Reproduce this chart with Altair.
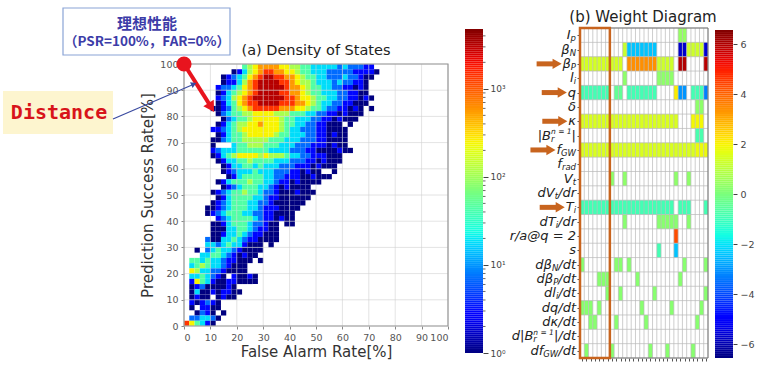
import numpy as np
import pandas as pd
import altair as alt

W, H = 757, 365

# ---------------------------------------------------------------
# (a) Density of States: 2 % x 2 % histogram of (FAR, PSR).
# One string per PSR band, the 98-100 % band first; one character
# per FAR band starting at 0 %.  "." = empty bin, otherwise the
# count class given in LEVEL_COUNTS.
# ---------------------------------------------------------------
DENSITY_ROWS = [
    "..........." "5678888776" "6554444434" "33322",
    "........." "1246789988" "7765544433" "33322221",
    "......." "12345789RR" "9988765544" "333433211",
    "......." "1224689RRR" "R998766544" "43433221",
    "......" "23345789RR" "RRR9887655" "443322121",
    "......" "12456789RR" "RR99887655" "444332211",
    "......" "2346789RRR" "RRR9987765" "5443322121",
    "......" "12457899RR" "RR99988765" "443322111",
    "....." "1123567899" "9998887765" "543322121." "1",
    "......" "1345566777" "7666555443" "32212111",
    "......." "1345567777" "7655444332" "212111",
    "......" "1245667787" "7765544332" "2111.1",
    "....." "2234567777" "7776544333" "221111",
    "......" "1245567777" "7655444332" "21211",
    "....." "1134556666" "6555444333" "221111",
    "....." "1...455666" "5554443332" "221211",
    "....." "2344455555" "5444433322" "1111211",
    "....." "1245677776" "7666544332" "22111",
    "......" "1244556555" "5444333221" "2111",
    "......." "1244554544" "4333222121" "11",
    "......." "1234445444" "333221211." ".1",
    "........" "1245555443" "3222112111",
    "......" "1245556554" "4322121111",
    "......." "1234555443" "2121111",
    "....." "1234556554" "3321112111",
    "......" "1245555443" "22111111",
    "....." "1234555443" "32111111",
    "...." "1123455544" "32221111",
    "...." "1234555443" "3221111",
    "......" "2345555432" "21211",
    "....." "1124555433" "211.11",
    "....." "1114455432" "211",
    "....." "1124454322" "111",
    "...." "3114454322" "1111",
    "...." "4434544211" "1.1",
    ".." "1.34544321" "111",
    "..." "4455432121" "1",
    "." "5545443221" "11.1",
    "." "4565443211" "1",
    "." "7644332111" "1",
    "." "4454321.21" "121",
    "." "2754211221" "111",
    "." "123111121",
    "." "1411212211",
    "." "1211.1211",
    "." "212321",
    "." "1.2211",
    ".." "1321.1",
    "." "334431",
    "975421",
]
LEVEL_COUNTS = {"1": 1, "2": 3, "3": 7, "4": 18, "5": 45, "6": 110,
                "7": 250, "8": 560, "9": 1400, "R": 3200}
N_FAR_BINS = 38
BIN = 2

AXIS_TICKS = list(range(0, 101, 10))
DENS_TICKS = [0, 1, 2, 3]
DENS_TICK_LABELS = ["10⁰", "10¹", "10²", "10³"]
DENS_LOG_MAX = 3.68

# ---------------------------------------------------------------
# (b) Weight Diagram: 23 input features x 30 models.
# Label pieces: (base, subscript, superscript, tail)
# ---------------------------------------------------------------
FEATURES = [
    ("I", "p", "", ""),
    ("β", "N", "", ""),
    ("β", "P", "", ""),
    ("l", "i", "", ""),
    ("q", "", "", ""),
    ("δ", "", "", ""),
    ("κ", "", "", ""),
    ("|B", "r", "n = 1", "|"),
    ("f", "GW", "", ""),
    ("f", "rad", "", ""),
    ("V", "t", "", ""),
    ("dV", "t", "", "/dr"),
    ("T", "i", "", ""),
    ("dT", "i", "", "/dr"),
    ("r/a@q = 2", "", "", ""),
    ("s", "", "", ""),
    ("dβ", "N", "", "/dt"),
    ("dβ", "P", "", "/dt"),
    ("dl", "i", "", "/dt"),
    ("dq/dt", "", "", ""),
    ("dκ/dt", "", "", ""),
    ("d|B", "r", "n = 1", "|/dt"),
    ("df", "GW", "", "/dt"),
]
# per feature: runs of (first model, last model, weight)
WEIGHT_RUNS = [
    [(23, 24, 0.4)],
    [(10, 10, 1.2), (11, 17, -2.4), (23, 24, -5.7), (25, 28, 1.3), (29, 29, -5.6)],
    [(0, 9, 1.4), (11, 17, 3.4), (18, 21, 1.3), (23, 24, 6.0), (29, 29, 5.9)],
    [(10, 10, 0.3), (18, 21, 0.3)],
    [(0, 6, -0.9), (8, 9, -0.4), (11, 17, -0.9), (22, 22, 2.1), (23, 24, -3.0),
     (26, 28, -0.9), (29, 29, -3.3)],
    [(27, 28, 0.3)],
    [(0, 22, 1.5), (26, 28, 1.9)],
    [(27, 28, -0.8)],
    [(0, 26, 1.5), (27, 29, 1.8)],
    [],
    [(7, 7, 0.3), (10, 10, 0.3), (22, 22, 0.3), (25, 25, 0.3)],
    [],
    [(0, 21, -0.9), (23, 25, -0.9), (29, 29, -0.9)],
    [(10, 10, 0.2), (18, 22, 0.2), (25, 25, 0.2)],
    [(22, 22, 4.3)],
    [(18, 18, -0.9), (22, 22, -2.4)],
    [(0, 0, 0.2), (8, 9, 0.2), (11, 11, 0.2), (24, 24, 0.2), (29, 29, 0.2)],
    [(4, 6, 0.2), (13, 13, 0.2), (23, 23, 0.2)],
    [(6, 6, 0.2), (9, 9, 0.2), (17, 17, 0.2), (29, 29, 0.2)],
    [(0, 2, 0.2), (4, 4, 0.2), (14, 14, 0.2), (21, 21, 0.2), (28, 28, 0.2)],
    [(2, 3, 0.2), (8, 8, 0.2), (15, 15, 0.2), (27, 27, 0.2)],
    [],
    [(1, 1, 0.2), (7, 7, 0.2), (16, 16, 0.2), (20, 20, 0.2), (26, 26, 0.2)],
]
HIGHLIGHT_ROWS = [2, 4, 6, 8, 12]
N_MODELS = 30
SELECTED_MODELS = 7
WEIGHT_TICKS = [-6, -4, -2, 0, 2, 4, 6]
WEIGHT_LIM = 6.56

# ---------------------------------------------------------------
# layout (pixels) and styling
# ---------------------------------------------------------------
A_X, A_Y = [184, 448], [326, 64]
CA_X0, CA_X1, CA_Y = 465, 483, [353, 29]
B_X, B_Y = [580, 708], [28, 358]
CB_X0, CB_X1, CB_Y = 715, 733, [358, 30]
FONT = "DejaVu Sans"
ORANGE = "#c8641e"
RED = "#e8141e"


def jet_rgb(t):
    r = np.interp(t, [0, 0.35, 0.66, 0.89, 1], [0, 0, 1, 1, 0.5])
    g = np.interp(t, [0, 0.125, 0.375, 0.64, 0.91, 1], [0, 0, 1, 1, 0, 0])
    b = np.interp(t, [0, 0.11, 0.34, 0.65, 1], [0.5, 1, 1, 0, 0])
    return r, g, b


JET_T = np.linspace(0, 1, 41)
JET = ["#%02x%02x%02x" % tuple(int(round(255 * c)) for c in jet_rgb(t)) for t in JET_T]


def jet_scale(lo, hi):
    return alt.Scale(domain=[float(lo + (hi - lo) * t) for t in JET_T],
                     range=JET, interpolate="rgb")


ONE = pd.DataFrame({"k": [0]})

# ================= panel (a) =================
cells = []
for k, row in enumerate(DENSITY_ROWS):
    psr_lo = 100 - BIN * (k + 1)
    for c, ch in enumerate(row.ljust(N_FAR_BINS, ".")):
        if ch == ".":
            continue
        n = LEVEL_COUNTS[ch]
        cells.append(dict(far_lo=BIN * c, far_hi=BIN * c + BIN,
                          psr_lo=psr_lo, psr_hi=psr_lo + BIN,
                          count=n, logc=float(np.log10(n))))
dens_df = pd.DataFrame(cells)

xa = alt.Scale(domain=[0, 100], range=A_X, nice=False, zero=False)
ya = alt.Scale(domain=[0, 100], range=A_Y, nice=False, zero=False)
# one axis definition per channel, shared by every layer of the panel
ax_a_x = alt.Axis(
    orient="bottom", offset=A_Y[0] - H, values=AXIS_TICKS, grid=False,
    domain=False, tickSize=3, tickColor="#888", labelFontSize=9.5,
    labelColor="#555", labelPadding=3, labelFont=FONT,
    title="False Alarm Rate[%]", titleFont=FONT, titleFontSize=15,
    titleFontWeight="normal", titleColor="#333", titlePadding=3)
ax_a_y = alt.Axis(
    orient="left", offset=-A_X[0], values=AXIS_TICKS, grid=False,
    domain=False, tickSize=3, tickColor="#888", labelFontSize=9.5,
    labelColor="#555", labelPadding=3, labelFont=FONT,
    title="Prediction Success Rate[%]", titleFont=FONT, titleFontSize=15,
    titleFontWeight="normal", titleColor="#333", titlePadding=4)


def ax_x(field):
    return alt.X(field, scale=xa, axis=ax_a_x)


def ax_y(field):
    return alt.Y(field, scale=ya, axis=ax_a_y)


heat = alt.Chart(dens_df).mark_rect().encode(
    x=ax_x("far_lo:Q"), x2="far_hi:Q",
    y=ax_y("psr_lo:Q"), y2="psr_hi:Q",
    color=alt.Color("logc:Q", scale=jet_scale(0, DENS_LOG_MAX), legend=None),
)

grid_df = pd.DataFrame({"v": AXIS_TICKS, "lo": 0, "hi": 100})
grid_v = alt.Chart(grid_df).mark_rule(color="#d0d0d0", opacity=0.6, strokeWidth=1).encode(
    x=ax_x("v:Q"), y=ax_y("lo:Q"), y2="hi:Q")
grid_h = alt.Chart(grid_df).mark_rule(color="#d0d0d0", opacity=0.6, strokeWidth=1).encode(
    y=ax_y("v:Q"), x=ax_x("lo:Q"), x2="hi:Q")
frame_a = alt.Chart(pd.DataFrame({"lo": [0], "hi": [100]})).mark_rect(
    fill=None, stroke="#999", strokeWidth=1.2).encode(
    x=ax_x("lo:Q"), x2="hi:Q", y=ax_y("lo:Q"), y2="hi:Q")

# ideal operating point (FAR 0 %, PSR 100 %) and its distance arrow
ideal = pd.DataFrame({"far": [0.0], "psr": [100.0], "far_end": [10.0], "psr_end": [84.0]})
dist_shaft = alt.Chart(ideal).mark_rule(color=RED, strokeWidth=4).encode(
    x=ax_x("far:Q"), y=ax_y("psr:Q"), x2="far_end:Q", y2="psr_end:Q")
dist_head = alt.Chart(ideal).mark_point(shape="triangle", filled=True, color=RED,
                                        opacity=1, size=150, angle=148).encode(
    x=ax_x("far_end:Q"), y=ax_y("psr_end:Q"))
ideal_dot = alt.Chart(ideal).mark_circle(color=RED, opacity=1, size=230).encode(
    x=ax_x("far:Q"), y=ax_y("psr:Q"))

panel_a = alt.layer(heat, grid_v, grid_h, frame_a, dist_shaft, dist_head, ideal_dot)

# ================= colorbar (a) =================
steps = np.linspace(0, DENS_LOG_MAX, 161)
cba_df = pd.DataFrame({"lo": steps[:-1], "hi": steps[1:]})
cba_df["mid"] = (cba_df["lo"] + cba_df["hi"]) / 2
yca = alt.Scale(domain=[0, DENS_LOG_MAX], range=CA_Y, nice=False, zero=False)
dens_label_expr = " : ".join(
    f"datum.value == {v} ? '{t}'" for v, t in zip(DENS_TICKS, DENS_TICK_LABELS)) + " : ''"
ax_ca = alt.Axis(
    orient="right", offset=CA_X1 - W, values=DENS_TICKS, labelExpr=dens_label_expr,
    grid=False, domain=False, tickSize=5, tickColor="#444", labelFontSize=9,
    labelColor="#444", labelFont=FONT, labelPadding=2, title=None)
cba = alt.Chart(cba_df).mark_rect().encode(
    x=alt.value(CA_X0), x2=alt.value(CA_X1),
    y=alt.Y("lo:Q", scale=yca, axis=ax_ca), y2="hi:Q",
    color=alt.Color("mid:Q", scale=jet_scale(0, DENS_LOG_MAX), legend=None),
)
minor = [float(np.log10(m * 10 ** d)) for d in range(4) for m in range(2, 10)
         if np.log10(m * 10 ** d) < DENS_LOG_MAX]
cba_minor = alt.Chart(pd.DataFrame({"v": minor})).mark_rule(color="#444", strokeWidth=0.8).encode(
    x=alt.value(CA_X1), x2=alt.value(CA_X1 + 2.5), y=alt.Y("v:Q", scale=yca, axis=ax_ca))
colorbar_a = alt.layer(cba, cba_minor)

# ================= panel (b) =================
wcells = []
for r, runs in enumerate(WEIGHT_RUNS):
    for c0, c1, v in runs:
        for c in range(c0, c1 + 1):
            wcells.append(dict(c0=c, c1=c + 1, r0=r, r1=r + 1, w=v))
w_df = pd.DataFrame(wcells)
n_rows = len(FEATURES)

xb = alt.Scale(domain=[0, N_MODELS], range=B_X, nice=False, zero=False)
yb = alt.Scale(domain=[0, n_rows], range=B_Y, nice=False, zero=False)
ax_b_x = alt.Axis(
    orient="bottom", offset=B_Y[1] - H, values=[i + 0.5 for i in range(N_MODELS)],
    labels=False, grid=False, domain=False, tickSize=3, tickColor="#555", title=None)
ax_b_y = alt.Axis(
    orient="left", offset=-B_X[0], values=[i + 0.5 for i in range(n_rows)],
    labels=False, grid=False, domain=False, tickSize=3, tickColor="#555", title=None)


def bx(field):
    return alt.X(field, scale=xb, axis=ax_b_x)


def by(field):
    return alt.Y(field, scale=yb, axis=ax_b_y)


wmap = alt.Chart(w_df).mark_rect().encode(
    x=bx("c0:Q"), x2="c1:Q", y=by("r0:Q"), y2="r1:Q",
    color=alt.Color("w:Q", scale=jet_scale(-WEIGHT_LIM, WEIGHT_LIM), legend=None),
)
wgrid_v = alt.Chart(pd.DataFrame({"v": list(range(N_MODELS + 1)), "lo": 0, "hi": n_rows})).mark_rule(
    color="#b8b8b8", strokeWidth=0.7).encode(x=bx("v:Q"), y=by("lo:Q"), y2="hi:Q")
wgrid_h = alt.Chart(pd.DataFrame({"v": list(range(n_rows + 1)), "lo": 0, "hi": N_MODELS})).mark_rule(
    color="#b8b8b8", strokeWidth=0.7).encode(y=by("v:Q"), x=bx("lo:Q"), x2="hi:Q")
frame_b = alt.Chart(pd.DataFrame({"x0": [0], "x1": [N_MODELS], "y0": [0], "y1": [n_rows]})).mark_rect(
    fill=None, stroke="#777", strokeWidth=1).encode(
    x=bx("x0:Q"), x2="x1:Q", y=by("y0:Q"), y2="y1:Q")
selected = alt.Chart(pd.DataFrame({"x0": [0], "x1": [SELECTED_MODELS], "y0": [0], "y1": [n_rows]})).mark_rect(
    fill=None, stroke=ORANGE, strokeWidth=2.5).encode(
    x=bx("x0:Q"), x2="x1:Q", y=by("y0:Q"), y2="y1:Q")

# feature labels: right-aligned math-style text built from pieces
CW = {" ": 318, "/": 337, "|": 337, "=": 838, "@": 1000, "1": 636, "2": 636,
      "B": 686, "G": 775, "I": 295, "N": 748, "P": 603, "T": 611, "V": 684, "W": 989,
      "a": 613, "d": 635, "f": 352, "i": 278, "l": 278, "n": 634, "p": 635, "q": 635,
      "r": 411, "s": 521, "t": 392, "β": 636, "δ": 612, "κ": 592}


def text_w(s, size):
    return sum(CW.get(ch, 620) for ch in s) * size / 1000.0


MAIN_FS, SUB_FS, SUP_FS, LABEL_END = 13, 8.5, 7.5, 576
pieces, arrows = [], []
for r, (base, sub, sup, tail) in enumerate(FEATURES):
    yc = r + 0.5
    x = LABEL_END
    if tail:
        pieces.append(dict(t=tail, px=x, yc=yc, kind="main", align="right"))
        x -= text_w(tail, MAIN_FS)
    block = max(text_w(sub, SUB_FS), text_w(sup, SUP_FS))
    if block:
        x -= block
        if sub:
            pieces.append(dict(t=sub, px=x, yc=yc, kind="sub", align="left"))
        if sup:
            pieces.append(dict(t=sup, px=x, yc=yc, kind="sup", align="left"))
    pieces.append(dict(t=base, px=x, yc=yc, kind="main", align="right"))
    left = x - text_w(base, MAIN_FS)
    if r in HIGHLIGHT_ROWS:
        tip = left - 2
        arrows.append(dict(x0=tip - 24, x1=tip - 7, xh=tip - 5, yc=yc))
lab_df = pd.DataFrame(pieces)
arr_df = pd.DataFrame(arrows)


def label_layer(kind, align, size, dy):
    sel = lab_df[(lab_df["kind"] == kind) & (lab_df["align"] == align)]
    return alt.Chart(sel).mark_text(
        align=align, baseline="middle", font=FONT, fontStyle="italic",
        fontSize=size, dy=dy, color="#222").encode(
        x=alt.X("px:Q", scale=None),
        y=by("yc:Q"),
        text="t:N")


labels = [label_layer("main", "right", MAIN_FS, 0),
          label_layer("sub", "left", SUB_FS, 3),
          label_layer("sup", "left", SUP_FS, -3.5)]

arrow_shaft = alt.Chart(arr_df).mark_rule(color=ORANGE, strokeWidth=5).encode(
    x=alt.X("x0:Q", scale=None), x2="x1:Q", y=by("yc:Q"))
arrow_head = alt.Chart(arr_df).mark_point(shape="triangle", filled=True, color=ORANGE,
                                          opacity=1, size=110, angle=90).encode(
    x=alt.X("xh:Q", scale=None), y=by("yc:Q"))

panel_b = alt.layer(wmap, wgrid_v, wgrid_h, frame_b, selected, *labels, arrow_shaft, arrow_head)

# ================= colorbar (b) =================
wsteps = np.linspace(-WEIGHT_LIM, WEIGHT_LIM, 161)
cbb_df = pd.DataFrame({"lo": wsteps[:-1], "hi": wsteps[1:]})
cbb_df["mid"] = (cbb_df["lo"] + cbb_df["hi"]) / 2
ycb = alt.Scale(domain=[-WEIGHT_LIM, WEIGHT_LIM], range=CB_Y, nice=False, zero=False)
colorbar_b = alt.Chart(cbb_df).mark_rect().encode(
    x=alt.value(CB_X0), x2=alt.value(CB_X1),
    y=alt.Y("lo:Q", scale=ycb, axis=alt.Axis(
        orient="right", offset=CB_X1 - W, values=WEIGHT_TICKS, grid=False, domain=False,
        tickSize=4, tickColor="#444", labelFontSize=9.5, labelColor="#444",
        labelFont=FONT, labelPadding=3, title=None)),
    y2="hi:Q",
    color=alt.Color("mid:Q", scale=jet_scale(-WEIGHT_LIM, WEIGHT_LIM), legend=None),
)

# ================= titles and annotations =================


def note(text, x, y, **kw):
    return alt.Chart(ONE).mark_text(**kw).encode(
        x=alt.value(x), y=alt.value(y), text=alt.value(text))


def box(x0, x1, y0, y1, **kw):
    return alt.Chart(ONE).mark_rect(**kw).encode(
        x=alt.value(x0), x2=alt.value(x1), y=alt.value(y0), y2=alt.value(y1))


annotations = alt.layer(
    note("(a) Density of States", 316, 51, font=FONT, fontSize=14.5, color="#222",
         align="center", baseline="middle"),
    note("(b) Weight Diagram", 643, 17, font=FONT, fontSize=15, color="#222",
         align="center", baseline="middle"),
    box(63, 230, 8, 55, fill="white", stroke="#8aa4d6", strokeWidth=1.2),
    note("理想性能", 147, 24, font="Noto Sans CJK JP", fontSize=15, fontWeight="bold",
         color="#3c3ca8", align="center", baseline="middle"),
    note("（PSR=100%，FAR=0%）", 147, 42, font="Noto Sans CJK JP", fontSize=13.5,
         fontWeight="bold", color="#3c3ca8", align="center", baseline="middle"),
    box(3, 113, 91, 134, fill="#fdf5cf"),
    note("Distance", 59, 113, font="DejaVu Sans Mono", fontSize=20, fontWeight="bold",
         color="#d8141a", align="center", baseline="middle"),
    alt.Chart(ONE).mark_rule(color="#3a4aa0", strokeWidth=1.2).encode(
        x=alt.value(113), y=alt.value(119), x2=alt.value(192), y2=alt.value(85)),
    alt.Chart(ONE).mark_point(shape="triangle", filled=True, color="#3a4aa0",
                              opacity=1, size=40, angle=67).encode(
        x=alt.value(193), y=alt.value(84.5)),
)

chart = alt.layer(panel_a, colorbar_a, panel_b, colorbar_b, annotations).resolve_scale(
    x="independent", y="independent", color="independent"
).resolve_axis(
    x="independent", y="independent"
).properties(
    width=W, height=H, autosize=alt.AutoSizeParams(type="none"), padding=0,
    background="white",
).configure_view(stroke=None)

chart.save("out.html", embed_options={"renderer": "svg", "actions": False})
